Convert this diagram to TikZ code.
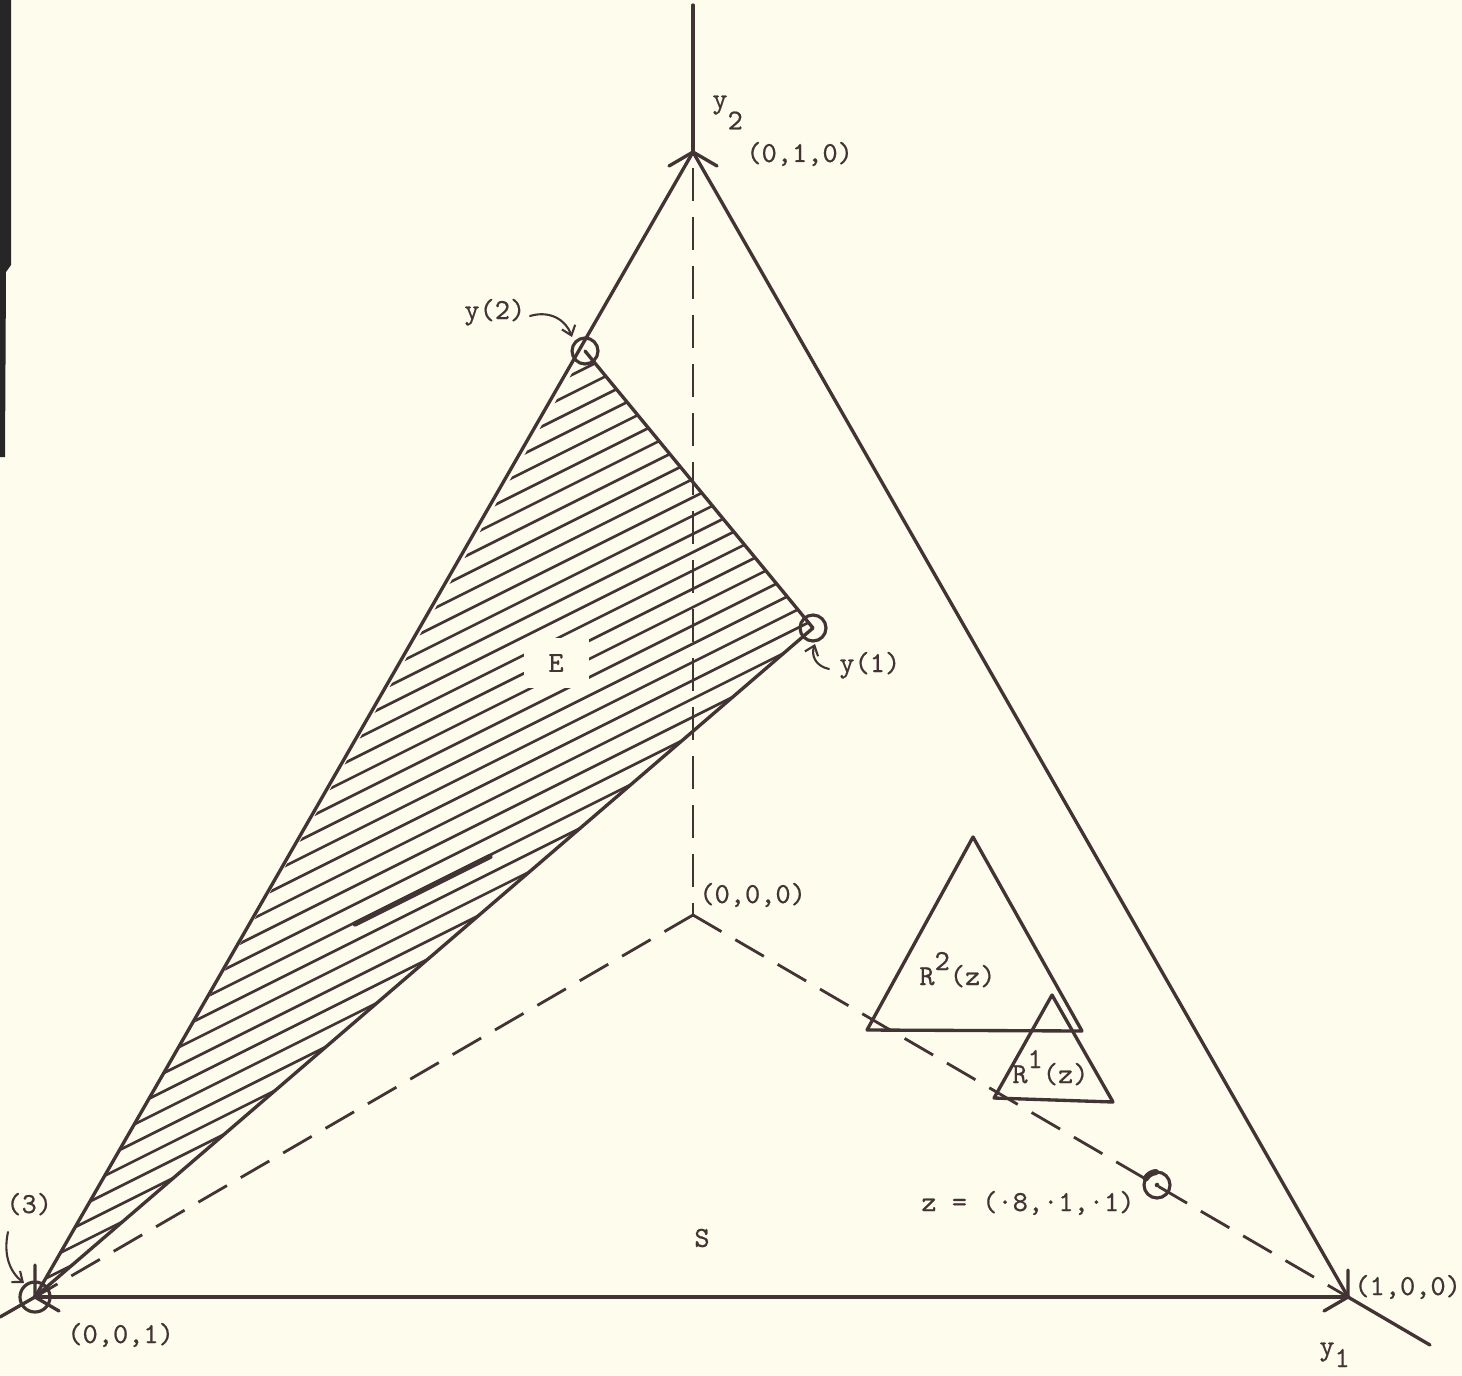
\documentclass[tikz,border=0pt]{standalone}
\usepackage{fontspec}
\setmonofont{lmmono10-regular.otf}[FakeBold=0.6]
\usetikzlibrary{arrows.meta}
\definecolor{bg}{RGB}{254,252,237}
\definecolor{ink}{RGB}{66,52,52}
\begin{document}
\begin{tikzpicture}[x=0.02cm,y=-0.02cm, line join=round, line cap=round,
  edge/.style={ink, line width=1.9pt},
  baseedge/.style={ink, line width=2.6pt},
  dashline/.style={ink, line width=1.6pt, line cap=butt, dash pattern=on 0.66cm off 0.32cm},
  hatch/.style={ink, line width=1.5pt},
  ring/.style={ink, line width=1.8pt},
  lbl/.style={text=ink, font=\ttfamily\fontsize{16.5}{19}\selectfont, inner sep=0pt},
  pointer/.style={ink, line width=1.2pt, -{Straight Barb[length=5pt,width=8pt]}}]
\useasboundingbox[fill=bg] (0,0) rectangle (1462,1375);
% scan edge
\fill[black!85] (0,0) -- (11,0) -- (11,265) -- (6,272) -- (5,457) -- (0,457) -- cycle;
% key points
\coordinate (A) at (693,152);
\coordinate (B) at (35,1297);
\coordinate (C) at (1348,1297);
\coordinate (O) at (693,915);
\coordinate (Y2) at (585,351);
\coordinate (Y1) at (813,628);
\coordinate (Z) at (1157,1185);
\coordinate (Top) at (693,5);
\coordinate (Y3end) at (0,1317);
\coordinate (Y1end) at (1430,1345);
\coordinate (Adash) at (693,168);
% hatching of E
\begin{scope}
\clip (Y2) -- (Y1) -- (B) -- cycle;
\foreach \k in {1,...,36}{
  \pgfmathsetmacro{\c}{642.5+\k*18.3}
  \draw[hatch] (0,\c) -- (900,\c-450);
}
\draw[ink, line width=3pt] (355,{1101.5-177.5}) -- (490,{1101.5-245});
\end{scope}
\node[lbl, fill=bg, minimum width=1.3cm, minimum height=1.0cm] (E) at (556,663) {E};
% triangle S
\draw[edge] (A) -- (B);
\draw[edge] (A) -- (C);
\draw[baseedge] (B) -- (C);
\draw[edge] (Y2) -- (Y1) -- (B);
% axes
\draw[edge] (Top) -- (A);
\draw[edge] (B) -- (Y3end);
\draw[edge] (C) -- (Y1end);
\draw[dashline] (Adash) -- (O);
\draw[dashline] (O) -- (B);
\draw[dashline] (O) -- (C);
% arrowheads
\draw[edge] (669,166) -- (A) -- (717,166);
\draw[edge] (35,1265) -- (B) -- (59,1311);
\draw[edge] (1348,1270) -- (C) -- (1324,1311);
% marked points
\draw[ring] (Y2) circle[radius=0.26cm];
\draw[ring] (Y1) circle[radius=0.26cm];
\draw[ring] (B) circle[radius=0.3cm];
\draw[ring] (Z) circle[radius=0.26cm];
\draw[ink, line width=3.5pt] (Z) ++(95:0.26cm) arc[start angle=95, end angle=150, radius=0.26cm];
\fill[ink] (Z) circle[radius=1.3pt];
% R triangles
\draw[edge] (973,837) -- (867,1030) -- (1082,1031) -- cycle;
\draw[edge] (1052,995) -- (994,1098) -- (1113,1102) -- cycle;
% labels
\node[lbl, anchor=base west] (ly2) at (712,108) {y\raisebox{-0.43cm}{2}};
\node[lbl, anchor=base west] (l010) at (746,162) {(0,1,0)};
\node[lbl, anchor=base west] (l000) at (699,903) {(0,0,0)};
\node[lbl, anchor=base west] (l100) at (1354,1295) {(1,0,0)};
\node[lbl, anchor=base west] (l001) at (67,1343) {(0,0,1)};
\node[lbl, anchor=base west] (ly1ax) at (1319,1355) {y\raisebox{-0.24cm}{1}};
\node[lbl, anchor=base west] (l3) at (6,1213) {(3)};
\node[lbl, anchor=base west] (lY2) at (464,319) {y(2)};
\node[lbl, anchor=base west] (lY1) at (839,672) {y(1)};
\node[lbl] (S) at (702,1238) {S};
\node[lbl, anchor=base west] (lz) at (921,1211) {z = (·8,·1,·1)};
\node[lbl, anchor=base west] (R2) at (919,985) {R\raisebox{0.3cm}{2}(z)};
\node[lbl, anchor=base west] (R1) at (1012,1083) {R\raisebox{0.3cm}{1}(z)};
% pointers
\draw[pointer] (530,316) .. controls (550,310) and (566,320) .. (572,337);
\draw[pointer] (829,669) .. controls (815,666) and (811,655) .. (815,644);
\draw[pointer] (8,1232) .. controls (3,1255) and (10,1272) .. (24,1283);
\end{tikzpicture}
\end{document}
